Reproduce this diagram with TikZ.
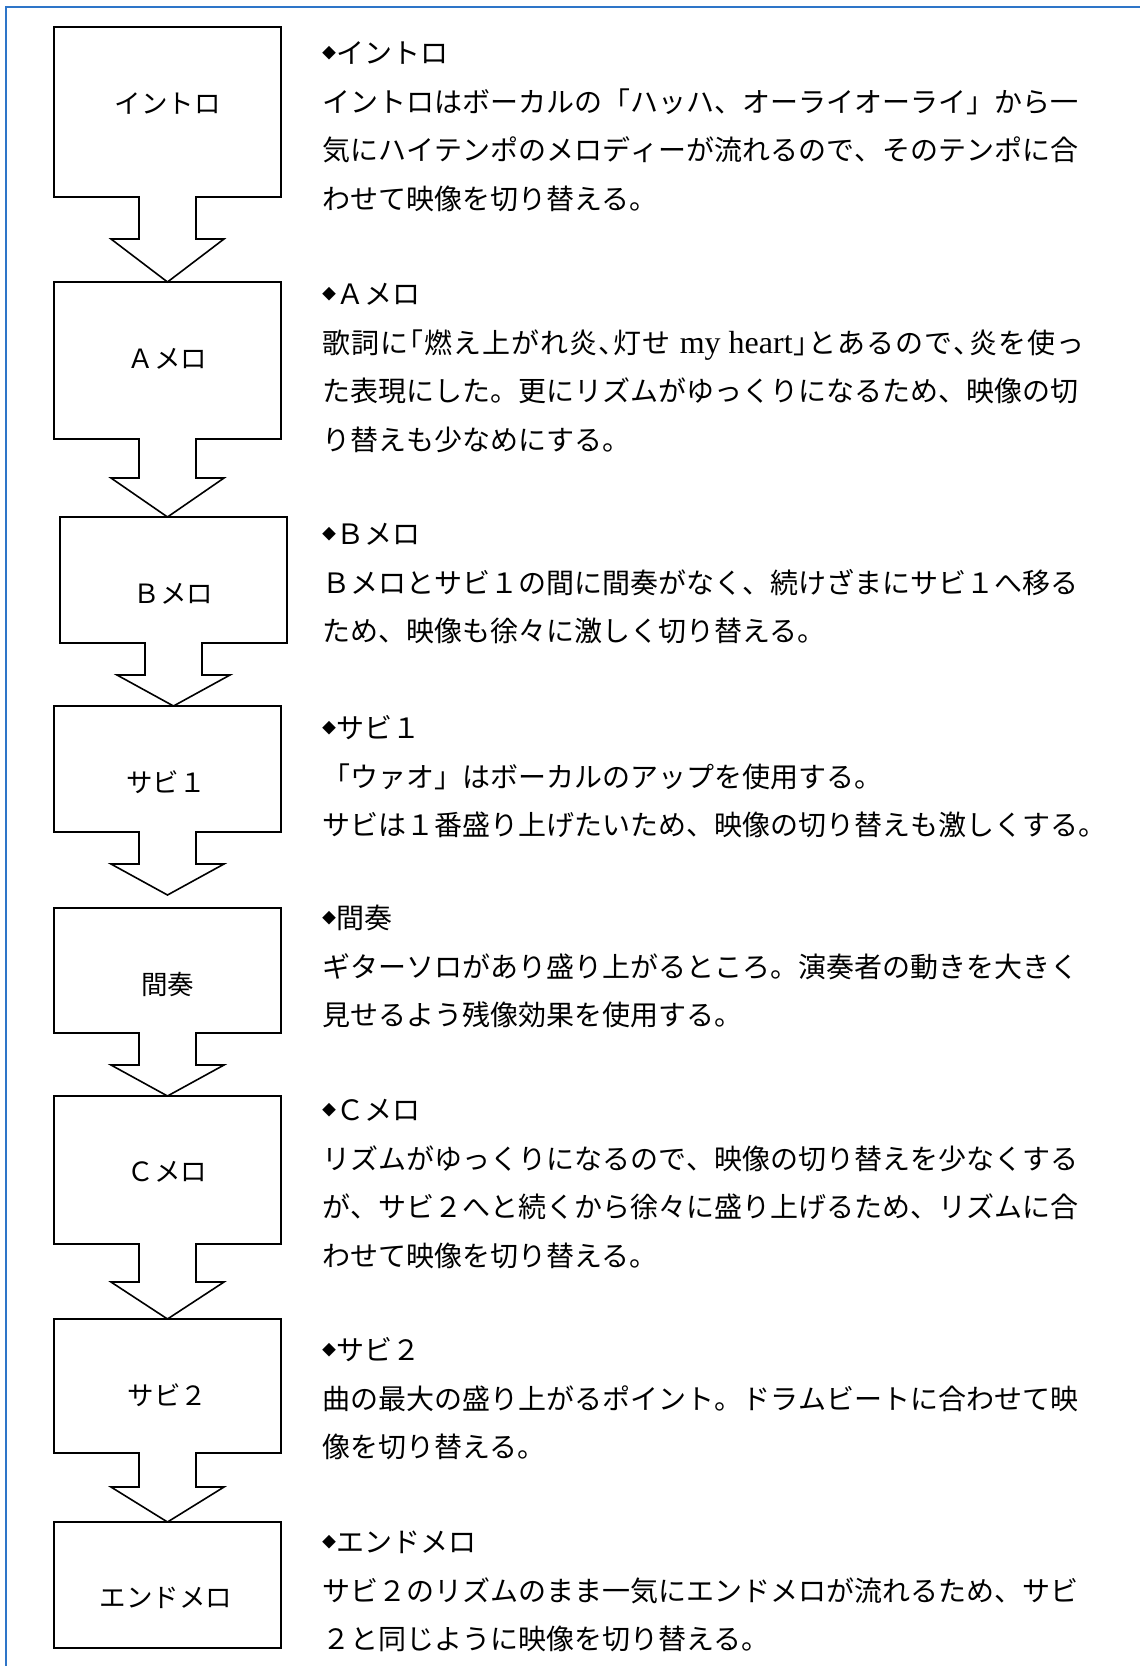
\documentclass[tikz,border=0pt]{standalone}
\usepackage{fontspec}
\setmainfont{Noto Sans CJK JP}
\newfontfamily\jphalt[RawFeature=+halt]{Noto Sans CJK JP}
\newfontfamily\latinserif{Liberation Serif}
\usetikzlibrary{calc}
\definecolor{framebl}{RGB}{46,117,200}
\makeatletter
\newcommand\jline[2][756pt]{\hbox to #1{\@tfor\jpchar:=#2\do{\jpchar\hskip0pt plus 1fil}\unskip}}
\makeatother
\newcommand\dia{\raisebox{5.3pt}{\fontsize{14}{14}\selectfont ◆}}
\newcommand\flowarrow[3]{%
  \fill[white] ($(#1.south)+(-28.5,-3)$) -- ($(#1.south)+(-28.5,#2)$) -- ($(#1.south)+(-56.5,#2)$) -- (#3) -- ($(#1.south)+(56.5,#2)$) -- ($(#1.south)+(28.5,#2)$) -- ($(#1.south)+(28.5,-3)$) -- cycle;
  \draw[boxline] ($(#1.south)+(-28.5,-0.8)$) -- ($(#1.south)+(-28.5,#2)$) -- ($(#1.south)+(-56.5,#2)$) -- (#3) -- ($(#1.south)+(56.5,#2)$) -- ($(#1.south)+(28.5,#2)$) -- ($(#1.south)+(28.5,-0.8)$);
}
\begin{document}
\begin{tikzpicture}[x=1pt,y=-1pt,
  boxline/.style={line width=1.6pt, line join=miter},
  flowbox/.style={draw, boxline, fill=white, minimum width=227pt, inner sep=0pt, outer sep=0pt},
  lbl/.style={font=\fontsize{26.5}{26.5}\selectfont, inner sep=0pt, text height=23.3pt, text depth=3.2pt},
  desc/.style={anchor=north west, inner sep=0pt, align=left, font=\fontsize{28}{48.5}\selectfont}]
\useasboundingbox (0,0) rectangle (1140,1666);
\fill[white] (0,0) rectangle (1140,1666);
\draw[framebl, line width=2pt] (1140,7) -- (6,7) -- (6,1666);

% boxes
\node[flowbox, minimum height=170pt] (intro) at (167.5,112) {};
\node[flowbox, minimum height=157pt] (amelo) at (167.5,360.5) {};
\node[flowbox, minimum height=126pt] (bmelo) at (173.5,580) {};
\node[flowbox, minimum height=126pt] (sabi1) at (167.5,769) {};
\node[flowbox, minimum height=125pt] (kanso) at (167.5,970.5) {};
\node[flowbox, minimum height=148pt] (cmelo) at (167.5,1170) {};
\node[flowbox, minimum height=134pt] (sabi2) at (167.5,1386) {};
\node[flowbox, minimum height=126pt] (endm) at (167.5,1585) {};

% labels
\node[lbl] (l-intro) at (167.5,103) {イントロ};
\node[lbl] (l-amelo) at (167.5,358) {Ａメロ};
\node[lbl] (l-bmelo) at (173.5,593) {Ｂメロ};
\node[lbl] (l-sabi1) at (166,782) {サビ１};
\node[lbl] (l-kanso) at (167.5,984) {間奏};
\node[lbl] (l-cmelo) at (167.5,1171) {Ｃメロ};
\node[lbl] (l-sabi2) at (167.5,1395) {サビ２};
\node[lbl] (l-endm) at (166,1597) {エンドメロ};

% arrows
\flowarrow{intro}{42}{intro.south |- amelo.north}
\flowarrow{amelo}{39}{amelo.south |- bmelo.north}
\flowarrow{bmelo}{32}{bmelo.south |- sabi1.north}
\flowarrow{sabi1}{32}{$(sabi1.south)+(0,63)$}
\flowarrow{kanso}{32}{kanso.south |- cmelo.north}
\flowarrow{cmelo}{38}{cmelo.south |- sabi2.north}
\flowarrow{sabi2}{34}{sabi2.south |- endm.north}

% descriptions
\node[desc] (t-intro) at (322,37.6) {\rule{0pt}{26pt}\dia イントロ\\\jline{イントロはボーカルの「ハッハ、オーライオーライ」から一}\\\jline{気にハイテンポのメロディーが流れるので、そのテンポに合}\\わせて映像を切り替える。};
\node[desc] (t-amelo) at (322,278.6) {\rule{0pt}{26pt}\dia Ａメロ\\\jline[762pt]{歌詞に{{\jphalt「}}燃え上がれ炎{{\jphalt、}}灯せ{{\latinserif\fontsize{32}{32}\selectfont\ my heart}}{{\jphalt」}}とあるので{{\jphalt、}}炎を使っ}\\\jline{た表現にした。更にリズムがゆっくりになるため、映像の切}\\り替えも少なめにする。};
\node[desc] (t-bmelo) at (322,518.6) {\rule{0pt}{26pt}\dia Ｂメロ\\\jline{Ｂメロとサビ１の間に間奏がなく、続けざまにサビ１へ移る}\\ため、映像も徐々に激しく切り替える。};
\node[desc] (t-sabi1) at (322,712.6) {\rule{0pt}{26pt}\dia サビ１\\「ウァオ」はボーカルのアップを使用する。\\\jline[765pt]{サビは１番盛り上げたいため、映像の切り替えも激しくする。}};
\node[desc] (t-kanso) at (322,902.6) {\rule{0pt}{26pt}\dia 間奏\\\jline{ギターソロがあり盛り上がるところ。演奏者の動きを大きく}\\見せるよう残像効果を使用する。};
\node[desc] (t-cmelo) at (322,1094.6) {\rule{0pt}{26pt}\dia Ｃメロ\\\jline{リズムがゆっくりになるので、映像の切り替えを少なくする}\\\jline{が、サビ２へと続くから徐々に盛り上げるため、リズムに合}\\わせて映像を切り替える。};
\node[desc] (t-sabi2) at (322,1334.6) {\rule{0pt}{26pt}\dia サビ２\\\jline{曲の最大の盛り上がるポイント。ドラムビートに合わせて映}\\像を切り替える。};
\node[desc] (t-endm) at (322,1526.6) {\rule{0pt}{26pt}\dia エンドメロ\\\jline{サビ２のリズムのまま一気にエンドメロが流れるため、サビ}\\２と同じように映像を切り替える。};
\end{tikzpicture}
\end{document}
